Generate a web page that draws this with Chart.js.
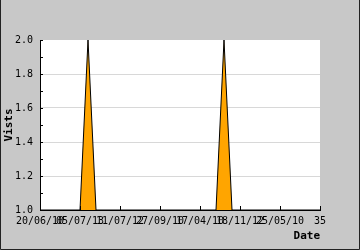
<!DOCTYPE html>
<html>
<head>
<meta charset="utf-8">
<script src="https://cdn.jsdelivr.net/npm/chart.js@4"></script>
<style>
  html, body { margin: 0; padding: 0; background: #c8c8c8; }
  #wrap { width: 360px; height: 250px; }
</style>
</head>
<body>
<div id="wrap"><canvas id="visits" width="360" height="250"></canvas></div>
<script>
// Visits per date — area line
const xPositions = [0,1,2,3,4,5,6,7,8,9,10,11,12,13,14,15,16,17,18,19,20,21,22,23,24,25,26,27,28,29,30,31,32,33,34,35];
const visits     = [1,1,1,1,1,1,2,1,1,1,1,1,1,1,1,1,1,1,1,1,1,1,1,2,1,1,1,1,1,1,1,1,1,1,1,1];
const xTickLabels = ['20/06/10','05/07/13','11/07/12','27/09/10','17/04/10','18/11/12','25/05/10','35'];

const MONO = "'DejaVu Sans Mono', monospace";

// gray frame + inside tick marks
const framePlugin = {
  id: 'frame',
  beforeDraw(chart) {
    const c = chart.ctx;
    c.save();
    c.fillStyle = '#c8c8c8';
    c.fillRect(0, 0, chart.width, chart.height);
    const a = chart.chartArea;
    c.fillStyle = '#ffffff';
    c.fillRect(a.left, a.top, a.right - a.left, a.bottom - a.top);
    c.restore();
  },
  afterDraw(chart) {
    const c = chart.ctx, a = chart.chartArea;
    const ys = chart.scales.y, xs = chart.scales.x;
    c.save();
    c.strokeStyle = '#000';
    c.lineWidth = 1;
    c.beginPath();
    for (let v = 1.1; v <= 2.001; v += 0.1) {
      const py = Math.round(ys.getPixelForValue(v)) + 0.5;
      c.moveTo(a.left, py); c.lineTo(a.left + 3, py);
    }
    for (let v = 5; v <= 35; v += 5) {
      const px = Math.round(xs.getPixelForValue(v)) + 0.5;
      c.moveTo(px, a.bottom); c.lineTo(px, a.bottom - 4);
    }
    c.stroke();
    // outer border
    c.strokeStyle = '#222';
    c.beginPath();
    c.moveTo(0.5, 0); c.lineTo(0.5, chart.height - 0.5);
    c.lineTo(chart.width - 0.5, chart.height - 0.5);
    c.lineTo(chart.width - 0.5, 0);
    c.stroke();
    c.restore();
  }
};

new Chart(document.getElementById('visits'), {
  type: 'line',
  data: {
    labels: xPositions,
    datasets: [{
      data: xPositions.map((x, i) => ({ x, y: visits[i] })),
      borderColor: '#000',
      borderWidth: 1,
      backgroundColor: '#FFA500',
      fill: 'start',
      tension: 0,
      pointRadius: 0,
    }],
  },
  options: {
    responsive: false,
    animation: false,
    layout: { padding: { left: 0, top: 40, right: 40, bottom: 0 } },
    plugins: { legend: { display: false }, tooltip: { enabled: false } },
    scales: {
      x: {
        type: 'linear', min: 0, max: 35,
        afterFit: s => { s.height = 40; },
        grid: { display: false, drawTicks: false },
        border: { display: true, color: '#000', width: 1 },
        ticks: {
          stepSize: 5, autoSkip: false, maxRotation: 0, padding: 5,
          color: '#000', font: { family: MONO, size: 10 },
          callback: v => xTickLabels[v / 5],
        },
        title: {
          display: true, text: 'Date', align: 'end', color: '#000',
          font: { family: MONO, size: 11, weight: 'bold' },
          padding: { top: 0, bottom: 7 },
        },
      },
      y: {
        min: 1, max: 2,
        afterFit: s => { s.width = 40; },
        grid: {
          drawTicks: false,
          color: ctx => (ctx.tick && (ctx.tick.value === 1 || ctx.tick.value === 2)) ? 'rgba(0,0,0,0)' : '#d8d8d8',
        },
        border: { display: true, color: '#000', width: 1 },
        ticks: {
          stepSize: 0.2, padding: 7,
          color: '#000', font: { family: MONO, size: 10 },
          callback: v => v.toFixed(1),
        },
        title: {
          display: true, text: 'Vists', color: '#000',
          font: { family: MONO, size: 11, weight: 'bold' },
          padding: { top: 3, bottom: 0 },
        },
      },
    },
  },
  plugins: [framePlugin],
});
</script>
</body>
</html>
